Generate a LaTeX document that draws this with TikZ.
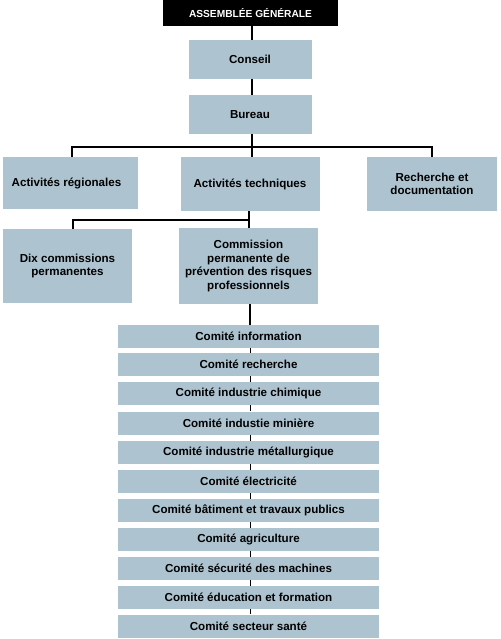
\documentclass[tikz,border=0pt]{standalone}
\usepackage{fontspec}
\setmainfont{Liberation Sans}
\definecolor{boxblue}{RGB}{173,196,208}
\begin{document}
\begin{tikzpicture}[x=1pt,y=-1pt,
  box/.style={fill=boxblue, draw=none, inner sep=1pt, align=center,
    font=\fontsize{11.6}{13.6}\selectfont\bfseries},
  comite/.style={box, minimum width=261pt, minimum height=23pt},
  link/.style={draw=black, line width=1.3pt},
  thin/.style={draw=black, line width=0.9pt}]
\useasboundingbox (0,0) rectangle (500,639);
\node[fill=black, text=white, minimum width=175pt, minimum height=26pt, inner sep=0pt,
  font=\fontsize{10.2}{12}\selectfont\bfseries] (ag) at (250.5,13) {ASSEMBLÉE GÉNÉRALE};
\node[box, minimum width=123pt, minimum height=39pt] (conseil) at (250,59.5) {Conseil};
\node[box, minimum width=123pt, minimum height=39pt] (bureau) at (250,114.5) {Bureau};
\node[box, minimum width=135pt, minimum height=52pt] (reg) at (70.5,183) {Activités régionales\hspace*{8pt}};
\node[box, minimum width=139pt, minimum height=54pt] (tech) at (250,184) {Activités techniques};
\node[box, minimum width=130pt, minimum height=54pt] (rech) at (432,184) {Recherche et\\documentation};
\node[box, minimum width=129pt, minimum height=74pt] (dix) at (67.5,266) {Dix commissions\\permanentes};
\node[box, minimum width=139pt, minimum height=76pt] (comm) at (248.5,266) {Commission\\permanente de\\prévention des risques\\professionnels};
\node[comite] (c1) at (248.5,336.5) {Comité information};
\node[comite] (c2) at (248.5,364.5) {Comité recherche};
\node[comite] (c3) at (248.5,393.5) {Comité industrie chimique};
\node[comite] (c4) at (248.5,423) {Comité industie minière};
\node[comite] (c5) at (248.5,452.5) {Comité industrie métallurgique};
\node[comite] (c6) at (248.5,481.5) {Comité électricité};
\node[comite] (c7) at (248.5,510.5) {Comité bâtiment et travaux publics};
\node[comite] (c8) at (248.5,539.5) {Comité agriculture};
\node[comite] (c9) at (248.5,568.5) {Comité sécurité des machines};
\node[comite] (c10) at (248.5,597.5) {Comité éducation et formation};
\node[comite] (c11) at (248.5,626) {Comité secteur santé};
\coordinate (bus1) at (250,147);
\coordinate (bus2) at (249,220);
% connectors
\draw[link] ([xshift=1.5pt]ag.south) -- ([xshift=2pt]conseil.north);
\draw[link] ([xshift=2pt]conseil.south) -- ([xshift=2pt]bureau.south |- bureau.north);
\draw[link] ([xshift=2pt]bureau.south) -- ([xshift=2pt]tech.north);
\draw[link] ([xshift=1.5pt]reg.north) |- (bus1) -| (rech.north);
\draw[link] (tech.south -| bus2) -- (comm.north -| bus2);
\draw[link] ([xshift=5.5pt]dix.north) |- (bus2);
\draw[link] ([xshift=1.5pt]comm.south) -- ([xshift=1.5pt]c1.north);
\foreach \a/\b in {c1/c2,c2/c3,c3/c4,c4/c5,c5/c6,c6/c7,c7/c8,c8/c9,c9/c10,c10/c11}
  \draw[thin] ([xshift=1.5pt]\a.south) -- ([xshift=1.5pt]\b.north);
\end{tikzpicture}
\end{document}
